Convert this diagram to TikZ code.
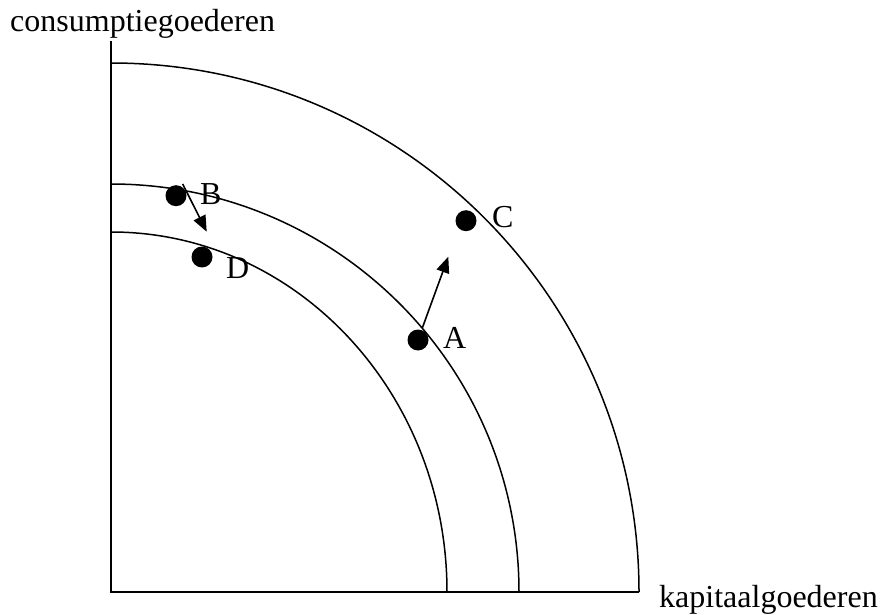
\documentclass[tikz,border=0pt]{standalone}
\usepackage{fontspec}
\setmainfont{Liberation Serif}
\usetikzlibrary{arrows.meta}
\begin{document}
\begin{tikzpicture}[x=1pt,y=1pt,
  axis/.style={line width=2pt},
  curve/.style={line width=1.5pt},
  dot/.style={circle,fill=black,minimum size=21pt,inner sep=0pt},
  lbl/.style={anchor=base west,inner sep=0pt,font=\fontsize{32}{38}\selectfont},
  move/.style={line width=1.6pt,-{Triangle[length=16pt,width=13pt]}}]
\useasboundingbox (0,0) rectangle (880,614);
% axes
\coordinate (O) at (111,22);
\coordinate (ytop) at (111,573);
\coordinate (xend) at (639,22);
\draw[axis] (ytop) -- (O) -- (xend);
% curves
\draw[curve] (111,551) arc[start angle=90,end angle=0,x radius=528,y radius=529];
\draw[curve] (111,430) arc[start angle=90,end angle=0,x radius=408,y radius=408];
\draw[curve] (111,382) arc[start angle=90,end angle=0,x radius=336,y radius=360];
% dots
\node[dot] (B) at (176,418.3) {};
\node[dot] (D) at (202,357) {};
\node[dot] (A) at (418,274) {};
\node[dot] (C) at (466,393.3) {};
% labels
\node[lbl] (lB) at (200,409) {B};
\node[lbl] (lD) at (226,336) {D};
\node[lbl] (lA) at (443,266) {A};
\node[lbl] (lC) at (492,386) {C};
\node[lbl] (ylab) at (10,582) {consumptiegoederen};
\node[lbl] (xlab) at (659,7) {kapitaalgoederen};
% arrows
\coordinate (bs) at (182.7,430);
\coordinate (be) at (206.7,382.3);
\coordinate (as) at (422.3,286);
\coordinate (ae) at (448.3,357.3);
\draw[move] (bs) -- (be);
\draw[move] (as) -- (ae);
\end{tikzpicture}
\end{document}
